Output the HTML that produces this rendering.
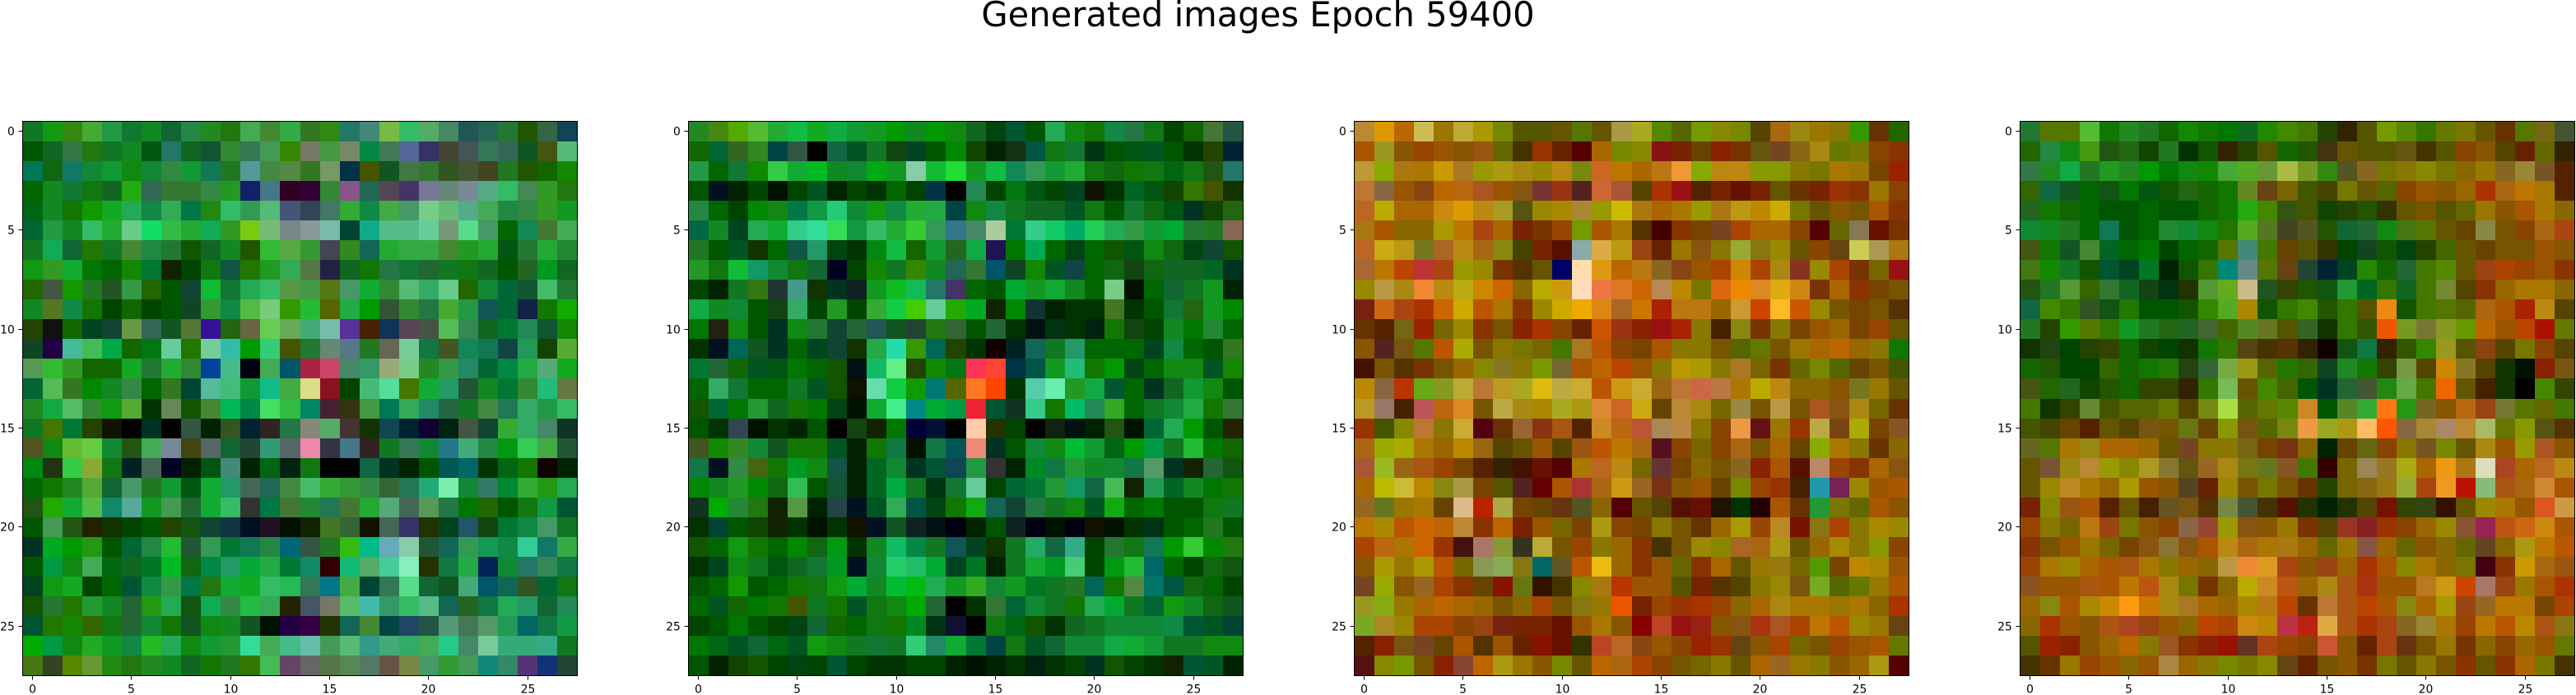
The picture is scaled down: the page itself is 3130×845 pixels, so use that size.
<!DOCTYPE html>
<html lang="en">
<head>
<meta charset="utf-8">
<title>Generated images Epoch 59400</title>
<style>
html,body{margin:0;padding:0;background:#fff;width:3130px;height:845px;overflow:hidden}
svg{display:block}
text{font-family:"DejaVu Sans",sans-serif;fill:#000}
</style>
</head>
<body>
<svg id="figure" width="3130" height="845" viewBox="0 0 3130 845" xmlns="http://www.w3.org/2000/svg">
<text x="1528.5" y="32" font-size="41.67" text-anchor="middle">Generated images Epoch 59400</text>
</svg>
<script>
const tickValues = [0, 5, 10, 15, 20, 25];
const image1 = [
"172 191 381 4a3 294 173 182 163 284 282 271 4a5 483 3a4 372 381 276 487 7b4 3b6 5a6 486 255 265 273 250 364 145",
"050 162 374 271 172 182 051 276 162 153 383 375 495 380 776 494 786 084 475 569 336 443 455 375 365 152 451 5b7",
"075 161 176 183 193 181 183 384 193 175 272 599 484 584 372 796 034 450 152 474 373 352 453 442 272 250 160 180",
"060 182 173 171 162 2a1 365 373 373 384 292 126 478 302 303 383 858 265 545 436 779 687 789 5a8 3b6 485 392 271",
"061 182 170 190 1a2 2a5 184 3a5 074 281 3b6 395 5b7 457 345 476 3a3 184 4a4 496 7c8 6b7 5a8 4a5 284 384 392 192",
"063 294 182 3b6 2a3 6c8 1d6 3b4 2a3 1a5 392 7c1 7b7 788 899 7ba 043 1a8 5b8 5b8 6c9 797 5d8 496 060 185 473 4a5",
"172 1a5 163 270 172 483 284 273 150 162 182 250 3b3 5a4 393 445 382 165 2a3 3a4 3a4 483 292 2a3 051 273 2a3 283",
"191 392 1a3 070 060 180 073 120 040 171 154 270 292 3a5 574 224 162 170 274 173 263 172 171 162 050 262 092 162",
"260 454 190 272 252 394 260 050 143 1b3 173 2a5 3b6 594 494 571 496 1a3 383 5b7 3a6 6c8 260 183 063 153 4b6 273",
"182 572 184 170 040 160 040 050 142 393 184 5b4 7c7 390 2b3 560 2a4 090 353 383 274 4a3 294 155 063 124 170 1a0",
"240 111 160 042 143 694 365 152 573 319 261 664 6c5 6a5 4a7 7ba 539 420 135 545 454 5b5 385 162 073 285 153 180",
"142 204 4b9 4b5 0a4 160 071 6c9 270 7c9 3ba 090 3c7 450 273 687 578 272 665 7c9 174 452 185 175 144 295 140 5a3",
"595 3b3 392 160 160 1a2 273 2a3 383 049 4b8 001 4a5 056 a24 c46 486 396 9a7 7c8 282 394 286 063 084 2a4 5a7 1a2",
"063 5b5 372 080 182 384 060 372 043 5b9 4b7 193 1b8 4a4 dd8 812 040 4b7 5d9 470 1a3 296 253 182 073 383 2b7 674",
"282 1a4 5b6 383 191 5a3 030 685 150 483 0b5 084 4d6 3b4 086 423 331 494 075 3a5 286 264 172 484 275 3a6 294 3b6",
"172 470 073 240 110 000 032 000 354 020 352 023 322 274 887 5a6 433 130 145 023 103 021 454 143 3a3 3a6 486 132",
"552 181 6b3 6c4 183 251 4a5 789 441 566 163 243 397 566 e8a 334 478 322 172 375 183 278 4a7 284 091 3c5 4a4 253",
"081 231 3c4 8a3 171 022 465 002 020 051 487 020 061 021 171 000 000 164 032 020 050 055 066 030 061 170 100 020",
"060 170 282 5a3 163 496 272 193 051 1a3 296 465 265 484 4b6 3a3 393 384 363 275 2a7 7ea 183 376 083 3a3 291 2a5",
"251 2a0 1a3 5b4 186 5a9 192 495 263 1a3 3b6 333 074 473 283 275 473 2a3 5a7 465 595 274 070 260 050 171 194 053",
"050 495 251 220 130 040 050 240 151 143 134 012 212 010 120 472 363 110 465 336 230 042 256 141 073 184 496 172",
"032 0a2 090 291 050 063 284 2b3 253 395 073 175 284 067 354 272 3b1 0b8 6ab 8ca 253 165 395 195 184 3c9 176 3a4",
"050 094 181 4a5 061 162 072 0b2 161 084 296 0a3 2a4 073 186 300 1b7 5a6 4c9 8eb 230 174 2a4 025 183 276 385 174",
"042 191 1a2 040 060 053 184 394 074 271 1a3 1a2 3b6 2b5 375 078 4a4 043 375 5d8 163 152 4a7 056 165 352 063 171",
"150 273 270 293 182 263 291 2a5 151 1a5 384 2b4 3a5 220 456 776 5b6 4ba 396 3b6 5b8 165 262 174 2a5 296 163 285",
"053 270 180 360 171 263 183 170 152 181 182 152 010 204 304 230 165 483 044 246 254 597 475 596 295 066 174 194",
"0a0 094 181 2a2 192 184 2b2 2a5 181 193 293 3d9 4a5 4b8 6ba 495 5b7 398 4a7 3a6 4a5 2c8 486 7c9 3a7 3a7 3a8 172",
"471 342 580 693 281 271 282 182 162 170 272 370 4b5 646 666 574 585 576 654 784 496 393 495 187 386 537 137 243"
];
const image2 = [
"282 481 5a0 5b3 2a3 1b4 1a2 1a4 193 192 090 182 090 181 162 041 053 050 2a5 181 170 184 274 171 040 160 473 254",
"160 063 362 382 044 354 000 164 052 172 141 042 050 080 140 020 131 054 171 173 031 050 051 052 050 030 240 023",
"294 060 173 180 3c4 1a3 0b2 182 183 0a1 192 8ca 1b3 2d3 192 1b4 185 395 193 2a3 171 161 170 171 061 171 251 276",
"050 012 020 040 010 040 052 020 040 030 060 040 034 000 285 040 071 051 040 042 110 030 062 051 140 370 450 130",
"284 060 040 080 181 074 194 2c7 183 191 184 2a3 2a4 044 181 184 172 162 162 052 171 050 173 161 051 032 140 261",
"064 182 042 2a5 1a3 3c8 3d9 3d5 194 3b6 2a3 3c3 395 378 486 ac9 073 3c8 1c6 0a6 2c5 2a5 394 193 0a3 273 272 865",
"272 050 052 130 060 154 296 041 030 081 1b4 160 193 262 1a4 215 070 0a5 060 041 060 150 051 181 161 041 143 150",
"292 171 1b3 196 183 171 163 002 040 180 172 380 182 265 373 056 142 180 052 144 060 161 141 161 162 162 062 032",
"040 020 172 371 233 498 130 032 122 192 1b2 1b5 276 436 060 050 0a3 192 1a3 182 060 7c8 010 060 163 172 192 020",
"1a4 182 183 050 141 3a6 040 292 040 3a3 1c4 4c0 6c9 2a0 0a2 120 080 133 020 030 030 472 030 050 173 261 192 080",
"070 221 181 050 032 181 273 143 263 255 152 243 271 363 050 263 030 011 031 030 021 170 141 040 182 070 283 060",
"030 012 065 152 032 060 042 143 130 2a4 2da 390 065 240 030 100 022 165 172 296 060 060 060 042 184 060 050 372",
"073 263 160 052 051 070 060 150 011 1b6 6e8 240 180 071 f35 f43 034 054 192 2b7 170 090 041 060 181 181 052 180",
"060 3a6 173 060 060 172 052 150 110 6da 1c4 190 077 560 f72 f40 030 5ca 6ea 292 1a4 053 060 032 162 193 181 050",
"150 063 070 293 162 170 070 041 010 1a3 4e8 088 0a3 094 e23 053 132 3c8 170 0b6 285 3a2 060 172 183 2a4 170 373",
"050 030 345 010 030 020 050 000 141 120 070 003 013 000 fca 230 040 000 121 011 020 251 010 063 2a5 090 050 220",
"452 180 382 183 152 170 170 052 020 170 174 010 174 055 e87 032 050 183 181 0b3 193 061 090 094 172 2b3 070 160",
"174 012 384 461 170 092 181 154 020 062 183 032 053 145 294 333 020 082 174 293 182 183 174 596 032 120 263 151",
"080 182 292 080 161 3b5 050 153 020 062 0a4 172 031 173 6c9 040 063 073 293 196 164 4b5 120 295 062 182 070 170",
"132 0a0 283 271 120 594 020 244 012 052 3a5 054 041 170 1a1 165 143 274 172 181 052 1a1 060 070 050 050 171 172",
"030 043 050 140 120 030 010 030 110 012 152 122 011 001 020 050 122 001 010 001 110 010 030 031 050 060 272 050",
"150 060 191 170 060 080 161 091 030 182 1b6 084 172 155 042 130 172 2a6 164 3a8 040 273 171 175 090 3c3 080 271",
"030 042 181 172 051 162 173 092 012 183 2c6 2b6 0a3 042 072 020 172 1a3 092 4c7 040 091 2b3 066 060 040 161 151",
"050 060 190 050 060 170 171 191 0a3 182 0b3 0b1 2a5 192 3a2 183 192 072 172 272 065 170 584 076 054 161 060 040",
"060 052 160 070 170 450 172 170 052 171 181 0a0 263 000 030 373 063 183 172 170 2a5 0a3 172 063 191 182 161 152",
"040 050 070 050 040 041 163 160 060 171 170 082 031 113 000 171 061 150 030 162 172 183 183 183 184 053 052 043",
"070 061 052 163 061 052 191 181 172 173 172 3c7 286 1a3 073 044 171 052 163 183 183 1a4 1a3 193 172 172 181 181",
"050 020 140 150 040 041 040 053 040 030 030 040 040 020 010 020 030 021 030 040 032 150 040 030 120 053 052 020"
];
const image3 = [
"b83 d90 b60 cb5 970 ba3 a90 780 550 550 650 570 650 a94 aa2 580 560 790 880 780 540 a61 981 970 870 390 630 260",
"a50 992 850 940 950 850 951 660 430 930 620 500 a60 780 880 811 720 640 820 730 651 742 861 a81 670 770 840 830",
"b93 8a0 a71 a70 c90 a72 990 a91 a81 980 b81 781 c62 b70 a60 b71 e93 8a0 b81 b81 890 890 870 770 a70 970 740 920",
"b73 864 950 841 b60 b61 a52 950 851 733 931 522 c63 a53 540 a30 911 520 720 610 720 650 630 720 930 830 970 840",
"b62 ba0 a60 a60 c81 d90 b81 a92 551 980 a80 a83 990 cb0 a71 a60 a70 990 a71 b91 b80 ca0 770 650 850 750 a50 830",
"a71 a50 860 860 a90 b70 a41 a60 720 730 940 790 a50 a70 530 400 830 740 742 a40 a60 a60 840 500 660 875 610 730",
"b62 ca1 b91 772 a62 b81 a61 881 440 720 510 8aa da4 b91 941 620 970 851 870 9a3 871 980 650 840 641 cc5 a95 a71",
"a63 b70 b40 b33 a41 990 980 730 530 650 006 fda d91 b60 b71 862 841 950 a40 c80 a40 a81 832 980 a40 730 760 911",
"980 b94 a81 e83 b81 ba1 c80 c60 860 ba0 c91 fdb e74 d72 c60 b85 b80 770 d61 e80 d82 da1 c81 730 a60 830 740 750",
"721 c61 a41 a30 c60 ca0 b50 a70 830 980 ca0 ea0 d81 a62 c70 a20 b71 b71 960 c93 c40 fb2 c50 980 750 740 750 530",
"630 520 761 920 760 980 830 750 820 a30 840 620 c50 931 820 911 a20 870 420 881 730 870 740 950 960 740 940 650",
"850 522 751 570 b50 aa0 750 870 770 760 470 a72 b50 840 740 a50 870 870 750 560 670 750 970 a60 b60 960 870 170",
"410 750 530 730 750 960 880 872 870 790 763 a50 b60 b40 950 870 b90 a90 870 a72 760 730 660 780 560 640 750 450",
"b80 864 b30 6a1 892 ba3 b73 b92 aa2 db1 ba4 ca3 b50 c91 ca3 961 b73 c64 b74 a70 ba0 b81 860 860 850 772 970 650",
"b92 976 420 b55 b61 d82 750 ba4 a81 a80 aa2 a91 d83 c62 ca1 640 b83 a81 760 984 750 b94 750 a52 851 a81 760 630",
"930 450 880 b73 870 ca3 501 630 963 831 a51 520 c82 b61 b53 a85 b84 870 840 e94 611 970 930 ba4 741 aa0 740 852",
"a61 9a0 aa0 a70 960 b80 961 540 650 950 540 951 b50 b70 a61 512 840 760 840 a61 750 a60 640 8a0 a70 870 630 860",
"a53 9b2 961 a51 940 740 520 320 410 610 500 a70 b62 b81 760 633 740 860 750 862 820 a50 510 b86 940 830 a60 851",
"a60 bb0 cb3 b80 881 a94 740 550 522 600 a50 a33 a61 c91 962 731 850 950 640 780 940 930 420 29a 725 980 950 a50",
"962 672 970 a70 640 db8 b20 aa4 740 640 631 552 860 500 650 540 510 610 210 030 200 a50 630 293 770 660 a50 850",
"b70 a80 b50 c60 b60 b83 830 b60 720 950 760 740 a91 840 740 870 750 630 960 a90 940 b82 710 871 a40 870 a80 980",
"a40 b61 a70 c60 930 411 a76 893 332 ba3 750 940 870 960 830 430 750 980 880 a62 a61 a91 650 960 a80 870 890 840",
"850 a90 970 a90 b50 760 895 8a5 871 066 652 b50 eb1 960 830 950 660 830 a60 650 970 971 760 590 740 b80 a80 950",
"742 9a0 850 962 a40 830 640 810 671 310 430 880 a71 b30 950 950 550 720 530 540 870 980 751 7a2 560 670 970 a50",
"992 8a1 970 a60 b60 a60 960 750 860 a40 750 871 970 e50 720 940 930 a30 940 860 a60 a81 a70 a70 970 a70 860 a30",
"7a2 a82 980 a40 a40 840 941 721 720 720 610 950 a70 850 800 b42 911 921 850 851 a31 a52 a40 b70 b50 980 970 641",
"520 820 751 742 640 a50 530 950 620 810 610 330 b42 b62 841 950 840 920 930 641 850 a40 760 750 940 950 a50 670",
"511 880 790 750 820 843 b60 a91 970 850 780 650 b60 a61 a40 840 750 760 870 650 a60 962 970 870 850 960 a91 500"
];
const image4 = [
"273 570 570 5b3 170 282 272 160 180 170 070 162 280 480 470 240 320 550 790 580 370 670 770 650 630 570 761 453",
"260 284 181 491 251 261 140 272 030 150 320 240 550 160 250 431 650 550 550 651 430 550 840 850 540 620 660 320",
"374 282 1a4 272 292 282 090 070 181 180 4a3 5a2 693 ab4 792 381 552 862 770 870 880 770 860 970 862 983 752 520",
"360 164 152 060 151 070 051 150 261 160 170 682 641 760 450 440 770 650 560 840 950 850 960 a30 a61 b70 a70 520",
"262 170 160 060 050 050 060 050 050 160 170 2a1 480 351 450 140 240 250 330 650 750 550 660 970 850 a50 a70 860",
"183 182 272 060 175 050 060 283 183 181 270 5a2 572 442 552 250 163 263 181 471 570 650 640 884 750 840 a61 a41",
"451 170 152 483 062 060 070 040 060 160 570 487 470 640 550 330 040 142 150 041 240 460 650 640 750 750 950 850",
"471 180 172 150 053 042 072 020 150 370 087 688 570 641 243 023 042 280 160 263 470 580 650 941 a40 940 950 830",
"251 272 593 360 373 162 141 031 230 593 6a2 cb8 252 340 250 151 293 062 370 162 470 783 540 830 960 a70 a70 860",
"164 480 370 352 151 270 050 050 150 380 5a2 a80 150 370 480 250 370 550 e81 150 470 570 560 a61 a50 a20 b81 540",
"272 240 390 570 370 192 272 261 262 463 460 582 672 550 362 130 370 350 e50 792 773 892 690 b60 950 b40 a10 670",
"130 241 040 240 340 160 140 040 130 170 370 541 430 530 320 100 151 174 320 350 380 992 550 841 540 770 840 540",
"160 250 040 040 360 160 170 270 241 363 7a4 991 560 270 360 142 282 170 340 794 540 c80 872 540 130 010 820 751",
"451 260 262 140 250 160 340 340 320 370 7b5 650 480 460 050 032 263 453 281 6a4 470 e60 650 420 130 000 480 340",
"470 130 340 683 450 560 560 670 540 781 ad4 560 670 580 c82 050 582 3a3 f71 291 762 850 b61 941 773 570 660 470",
"450 440 640 520 650 540 751 750 671 640 890 751 560 781 e94 9a2 a91 fb6 f50 864 a83 a86 b83 ab6 670 890 551 530",
"662 570 a70 981 a60 a60 960 650 742 870 870 761 740 731 860 020 640 661 840 870 752 780 650 a81 950 990 a52 850",
"650 753 981 b83 990 880 a92 873 651 962 a81 771 672 852 470 300 760 985 972 aa1 a60 e91 a71 ddb a42 a60 b62 b81",
"650 980 b82 a70 960 a90 950 850 542 620 980 750 770 750 630 240 760 861 971 9a3 a41 e92 b10 8b7 a51 a61 c83 a50",
"720 880 951 a50 520 650 420 652 751 530 784 453 430 510 230 020 230 540 710 340 341 310 650 980 a70 950 d52 c94",
"940 870 760 b71 941 770 850 840 864 943 990 851 850 970 730 540 932 822 930 840 960 980 853 925 b51 c61 c81 a50",
"830 750 950 970 760 740 851 873 851 a50 b81 a61 a70 a71 960 660 970 854 960 660 850 860 660 642 860 a91 b70 b50",
"940 a70 980 a60 a50 a51 a70 870 960 860 b94 e83 d92 a41 850 941 960 a30 a50 880 a70 860 770 401 830 c90 a61 951",
"852 950 950 a51 a50 b70 b51 a81 770 730 860 ba0 c82 b51 960 a81 a51 a31 950 950 b72 c91 c40 a76 941 970 a50 a30",
"960 881 a50 a80 c80 f91 c70 a81 a72 a60 960 a80 b71 b40 630 b73 a51 b40 a50 881 a60 a90 941 962 b70 b70 740 a40",
"860 a30 950 850 a51 a42 941 950 860 b40 a40 c81 b80 b34 b21 da4 a51 a30 a41 862 983 a70 940 b70 b50 b80 a51 871",
"550 920 820 850 960 b60 870 952 830 820 910 632 a41 940 840 c53 850 620 a41 631 750 970 730 860 840 960 950 670",
"430 630 970 940 950 860 950 a84 960 870 780 770 880 641 620 750 850 730 770 650 870 750 830 650 830 a60 770 430"
];
const images = [image1, image2, image3, image4];

const NS = "http://www.w3.org/2000/svg";
const svg = document.getElementById("figure");
const axesTop = 147.5;
const axesSize = 674;
const axesLeftOf = (p) => 27.5 + 809 * p;
const pixelScale = (v, origin) => origin + (v / 28) * axesSize;

function make(tag, attrs, parent) {
  const el = document.createElementNS(NS, tag);
  for (const k in attrs) el.setAttribute(k, attrs[k]);
  parent.appendChild(el);
  return el;
}

images.forEach((rows, p) => {
  const left = axesLeftOf(p);
  const group = make("g", {}, svg);
  
  

  rows.forEach((row, r) => {
    row.trim().split(/\s+/).forEach((color, c) => {
      const x0 = Math.round(pixelScale(c, left));
      const x1 = Math.round(pixelScale(c + 1, left));
      const y0 = Math.round(pixelScale(r, axesTop));
      const y1 = Math.round(pixelScale(r + 1, axesTop));
      const cell = make("rect", { x: x0, y: y0, width: x1 - x0, height: y1 - y0, fill: "#" + color, "shape-rendering": "crispEdges" }, group);
      
      
    });
  });

  const frame = make("rect", { x: left, y: axesTop, width: axesSize, height: axesSize, fill: "none", stroke: "#000", "stroke-width": 1.1, "shape-rendering": "crispEdges" }, group);
  
  

  tickValues.forEach((t) => {
    const tx = Math.round(pixelScale(t + 0.5, left) - 0.5) + 0.5;
    const ty = Math.round(pixelScale(t + 0.5, axesTop) - 0.5) + 0.5;
    const bottom = axesTop + axesSize;

    const xTick = make("line", { x1: tx, x2: tx, y1: bottom, y2: bottom + 5, stroke: "#000", "stroke-width": 1.1, "shape-rendering": "crispEdges" }, group);
    
    

    const xLabel = make("text", { x: tx, y: bottom + 21, "font-size": 13.89, "text-anchor": "middle" }, group);
    xLabel.textContent = String(t);
    
    

    const yTick = make("line", { x1: left - 5, x2: left, y1: ty, y2: ty, stroke: "#000", "stroke-width": 1.1, "shape-rendering": "crispEdges" }, group);
    
    

    const yLabel = make("text", { x: left - 9.7, y: ty + 5, "font-size": 13.89, "text-anchor": "end" }, group);
    yLabel.textContent = String(t);
    
    
  });
});
</script>
</body>
</html>
